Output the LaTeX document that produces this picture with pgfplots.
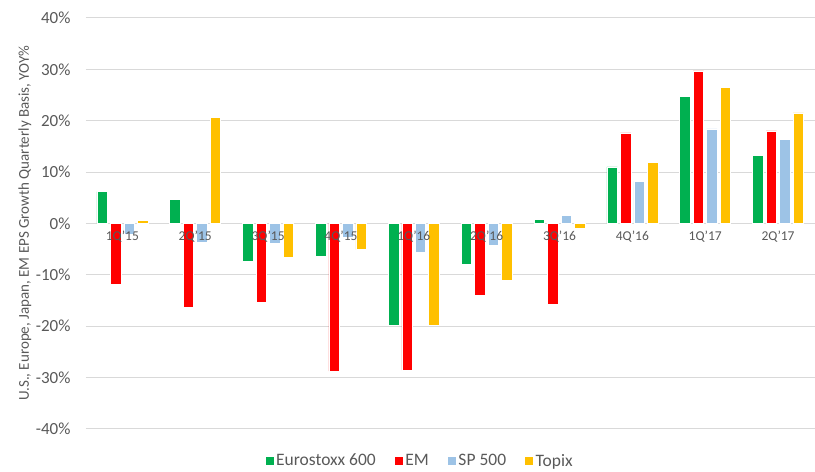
\documentclass[border=0pt]{standalone}
\usepackage{pgfplots}
\pgfplotsset{compat=1.18}
\usepackage{fontspec}
\setmainfont{Carlito}
\definecolor{cgreen}{HTML}{00B050}
\definecolor{cred}{HTML}{FF0000}
\definecolor{cblue}{HTML}{9DC3E6}
\definecolor{cyellow}{HTML}{FFC000}
\definecolor{ctext}{HTML}{595959}
\definecolor{cgrid}{HTML}{D9D9D9}
\newcommand\xf{\fontsize{13.5}{16}\selectfont}
\newcommand\yf{\fontsize{17}{20}\selectfont}
\begin{document}
\begin{tikzpicture}
\begin{axis}[
  at={(0pt,0pt)}, anchor=south west,
  scale only axis, width=729pt, height=411pt,
  ybar=3pt, bar width=10.5pt,
  xmin=-0.5, xmax=9.5, ymin=-40, ymax=40,
  xtick={0,...,9}, xticklabels={},
  ytick={-40,-30,-20,-10,0,10,20,30,40},
  yticklabels={\yf -40\%,\yf -30\%,\yf -20\%,\yf -10\%,\yf 0\%,\yf 10\%,\yf 20\%,\yf 30\%,\yf 40\%},
  axis line style={draw=none},
  major tick length=0pt,
  ymajorgrids, grid style={cgrid, line width=1pt},
  yticklabel style={text=ctext, xshift=-12pt, anchor=east},
  ylabel={\fontsize{15}{18}\selectfont U.S., Europe, Japan, EM EPS Growth Quarterly Basis, YOY\%},
  ylabel style={at={(axis description cs:-0.0837,0.5)}, anchor=center, text=ctext},
  legend style={at={(axis description cs:0.458,-0.078)}, anchor=center, draw=none, fill=none,
    legend columns=-1, font=\fontsize{17.5}{20}\selectfont, text=ctext,
    /tikz/every even column/.append style={column sep=16pt}},
  legend image code/.code={\fill[#1] (0pt,-4.5pt) rectangle (9pt,4.5pt);},
  clip=false,
]
\addplot[fill=cgreen, draw=white, line width=0.6pt] coordinates {(0,6.2) (1,4.7) (2,-7.4) (3,-6.4) (4,-19.9) (5,-8.0) (6,0.8) (7,11.0) (8,24.8) (9,13.2)};
\addplot[fill=cred, draw=white, line width=0.6pt] coordinates {(0,-11.9) (1,-16.4) (2,-15.4) (3,-28.8) (4,-28.6) (5,-14.0) (6,-15.8) (7,17.6) (8,29.7) (9,18.0)};
\addplot[fill=cblue, draw=white, line width=0.6pt] coordinates {(0,-2.2) (1,-3.7) (2,-3.9) (3,-2.8) (4,-5.6) (5,-4.2) (6,1.6) (7,8.2) (8,18.4) (9,16.3)};
\addplot[fill=cyellow, draw=white, line width=0.6pt] coordinates {(0,0.5) (1,20.6) (2,-6.6) (3,-5.1) (4,-19.9) (5,-11.1) (6,-0.9) (7,11.9) (8,26.5) (9,21.5)};
\legend{Eurostoxx 600, EM, SP 500, Topix}
\end{axis}
\begin{axis}[
  at={(0pt,0pt)}, anchor=south west,
  scale only axis, width=729pt, height=411pt,
  xmin=-0.5, xmax=9.5, ymin=-40, ymax=40,
  xtick={0,...,9},
  xticklabels={\xf 1Q'15,\xf 2Q'15,\xf 3Q'15,\xf 4Q'15,\xf 1Q'16,\xf 2Q'16,\xf 3Q'16,\xf 4Q'16,\xf 1Q'17,\xf 2Q'17},
  ytick=\empty,
  axis x line*=middle, axis y line=none,
  axis line style={draw=none},
  major tick length=0pt,
  xticklabel style={text=ctext, yshift=-4pt},
]
\end{axis}
\useasboundingbox (-86pt,-41pt) rectangle (729pt,429pt);
\end{tikzpicture}
\end{document}
